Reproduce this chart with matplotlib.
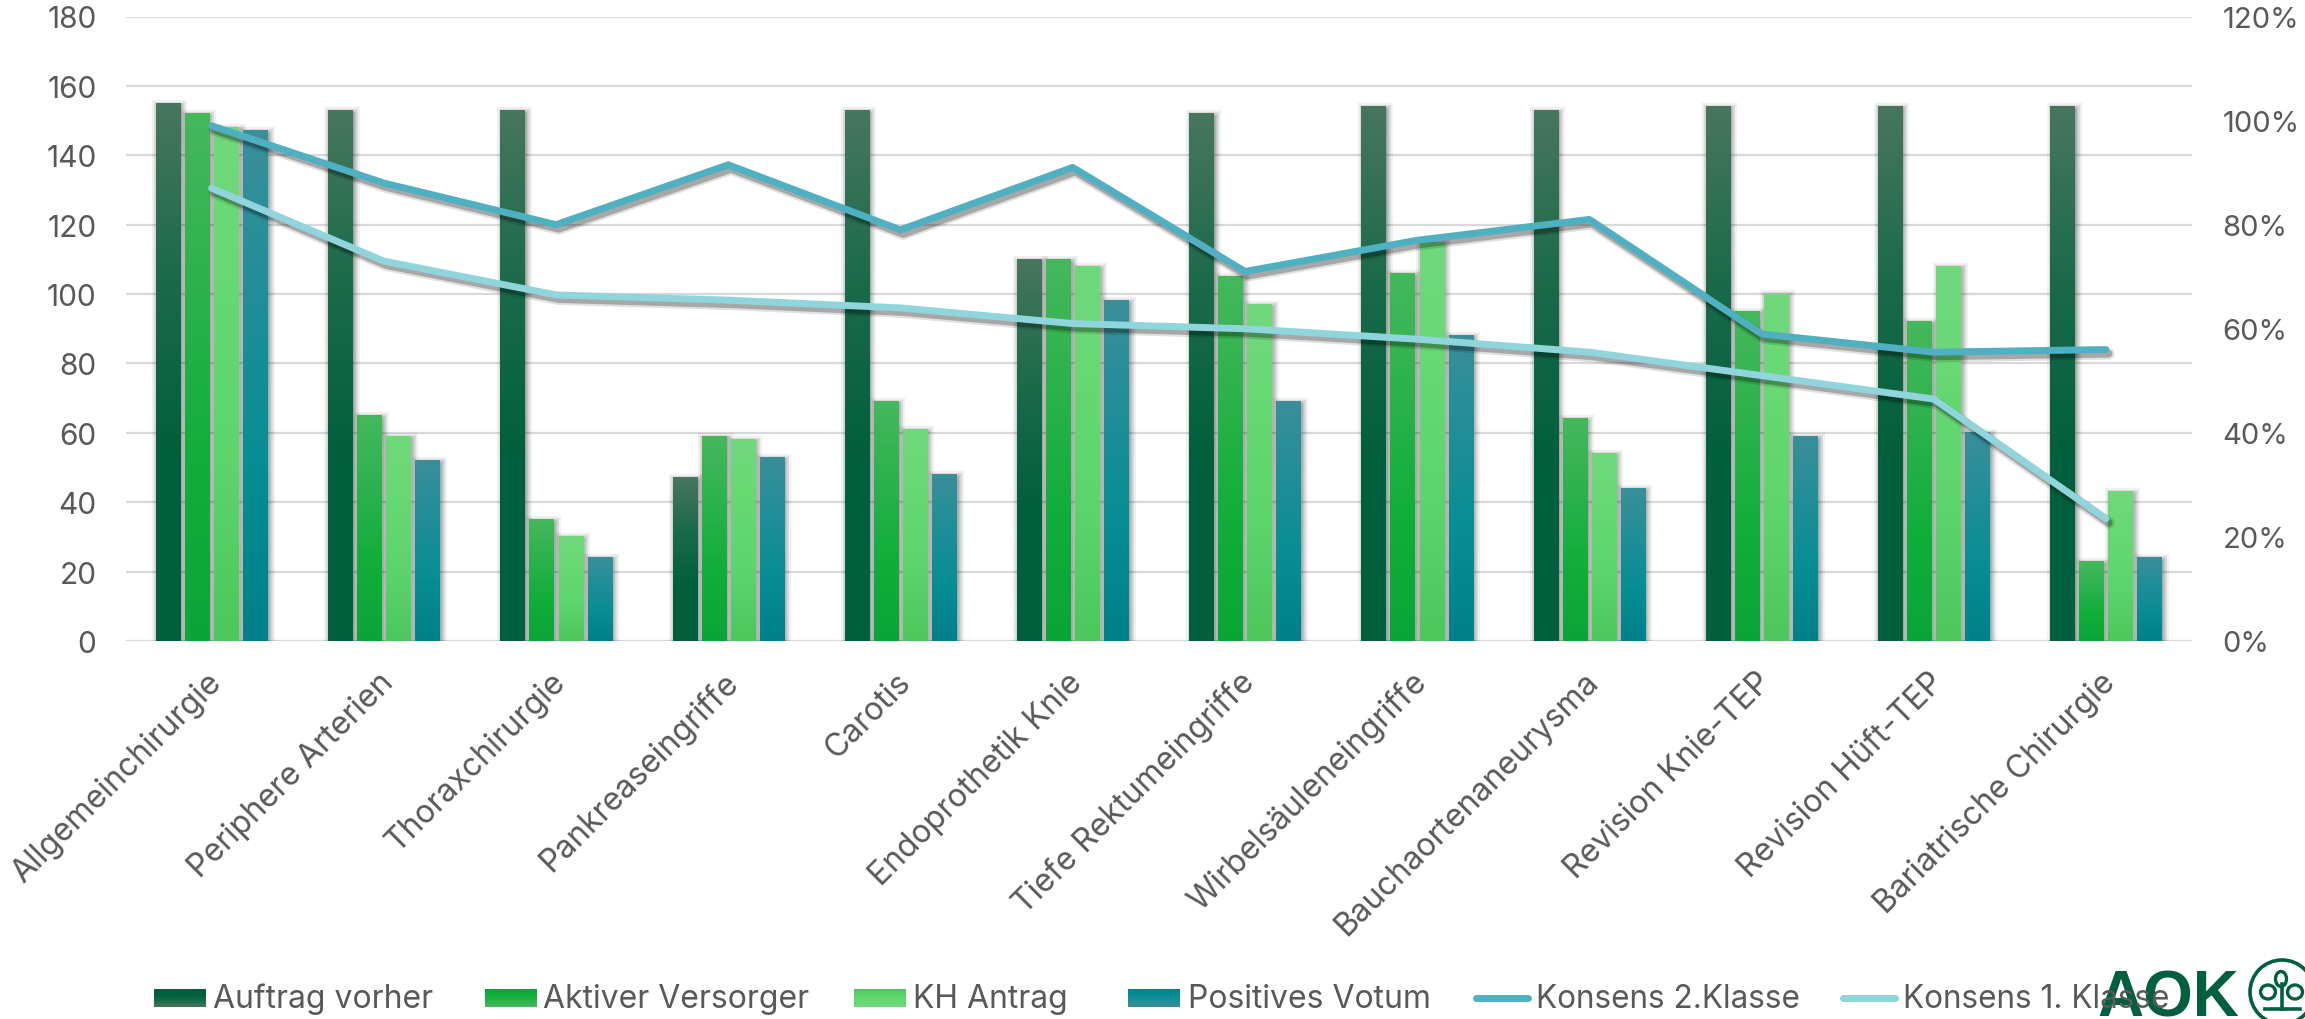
import numpy as np
import matplotlib
matplotlib.use("Agg")
import matplotlib.pyplot as plt
import matplotlib.patheffects as pe
from matplotlib.colors import LinearSegmentedColormap
from matplotlib.patches import Circle, Ellipse
from matplotlib.transforms import ScaledTranslation

plt.rcParams['font.family'] = ['Inter', 'DejaVu Sans']

categories = ["Allgemeinchirurgie", "Periphere Arterien", "Thoraxchirurgie", "Pankreaseingriffe",
              "Carotis", "Endoprothetik Knie", "Tiefe Rektumeingriffe", "Wirbelsäuleneingriffe",
              "Bauchaortenaneurysma", "Revision Knie-TEP", "Revision Hüft-TEP", "Bariatrische Chirurgie"]
auftrag_vorher = [155, 153, 153, 47, 153, 110, 152, 154, 153, 154, 154, 154]
aktiver_versorger = [152, 65, 35, 59, 69, 110, 105, 106, 64, 95, 92, 23]
kh_antrag = [148, 59, 30, 58, 61, 108, 97, 115, 54, 100, 108, 43]
positives_votum = [147, 52, 24, 53, 48, 98, 69, 88, 44, 59, 60, 24]
konsens_2 = [99, 88, 80, 91.5, 79, 91, 71, 77, 81, 59, 55.5, 56]
konsens_1 = [87, 73, 66.5, 65.5, 64, 61, 60, 58, 55.5, 51, 46.5, 23.5]

TEXT = '#595959'
GREEN = '#005f3c'
LINE_2 = '#4fb0c1'
LINE_1 = '#8fd5db'

bar_series = [
    ("Auftrag vorher", auftrag_vorher, ['#47765e', '#1a6a4a', '#005f3c', '#005f3c']),
    ("Aktiver Versorger", aktiver_versorger, ['#45b85c', '#2bb24c', '#10ae3a', '#0aa537']),
    ("KH Antrag", kh_antrag, ['#70d97c', '#66d873', '#5bd56b', '#4cc75c']),
    ("Positives Votum", positives_votum, ['#3a8f98', '#1f8e98', '#068d94', '#00808a']),
]

fig = plt.figure(figsize=(23.05, 10.2), dpi=100)
ax = fig.add_axes([125.5 / 2305, 1 - 642 / 1020, (2192 - 125.5) / 2305, (642 - 17.5) / 1020])
ax2 = ax.twinx()

x = np.arange(len(categories))
width = 0.14
pitch = 0.169
ramp = np.linspace(0, 1, 128).reshape(-1, 1)

for i, (name, values, stops) in enumerate(bar_series):
    cmap = LinearSegmentedColormap.from_list(name, stops)
    xs = x + (i - 1.5) * pitch
    bars = ax.bar(xs, values, width, color=stops[2], zorder=3)
    for bar, xc, v in zip(bars, xs, values):
        # soft grey halo round each bar
        bar.set_path_effects([
            pe.Stroke(linewidth=8, foreground='black', alpha=0.06, offset=(1, -1)),
            pe.Stroke(linewidth=5, foreground='black', alpha=0.09, offset=(1, -1)),
            pe.Stroke(linewidth=2.5, foreground='black', alpha=0.10, offset=(1, -1)),
            pe.Normal(),
        ])
        ax.imshow(ramp, cmap=cmap, aspect='auto', zorder=3.1, interpolation='bilinear',
                  extent=[xc - width / 2, xc + width / 2, 0, v])

ax.set_xlim(-0.5, 11.5)
ax.set_ylim(0, 180)
ax.set_yticks(range(0, 181, 20))
ax.grid(axis='y', color='#d9d9d9', lw=1.6, zorder=0)
ax.set_axisbelow(True)
for s in ax.spines.values():
    s.set_visible(False)
ax.tick_params(axis='y', length=0, pad=21, labelsize=21.5, labelcolor=TEXT)
ax.tick_params(axis='x', length=0, pad=18)
ax.set_xticks(x)
ax.set_xticklabels(categories, rotation=45, ha='right', rotation_mode='anchor', fontsize=23, color=TEXT)
shift = ScaledTranslation(-6 / 100, 0, fig.dpi_scale_trans)
for lab in ax.get_xticklabels():
    lab.set_transform(lab.get_transform() + shift)

ax2.set_zorder(ax.get_zorder() + 1)
ax2.patch.set_visible(False)
shadow = [
    pe.Stroke(linewidth=8.5, foreground='black', alpha=0.12, offset=(2, -3)),
    pe.Stroke(linewidth=5.5, foreground='black', alpha=0.25, offset=(2, -3)),
    pe.Normal(),
]
for values, col in [(konsens_2, LINE_2), (konsens_1, LINE_1)]:
    ax2.plot(x, values, color=col, lw=5, solid_capstyle='round', solid_joinstyle='round',
             path_effects=shadow, zorder=5)
ax2.set_ylim(0, 120)
ax2.set_yticks(range(0, 121, 20))
ax2.set_yticklabels([f"{v}%" for v in range(0, 121, 20)])
for s in ax2.spines.values():
    s.set_visible(False)
ax2.tick_params(axis='y', length=0, pad=22, labelsize=21, labelcolor=TEXT)

# overlay in pixel units for the legend row and the logo
over = fig.add_axes([0, 0, 1, 1], zorder=10)
over.set_xlim(0, 2305)
over.set_ylim(1020, 0)
over.axis('off')

# logo
over.text(2168, 1017, "AOK", fontsize=46, fontweight='bold', family='Liberation Sans',
          color=GREEN, ha='center', va='baseline', zorder=1)
over.add_patch(Circle((2282, 993), 32, fc='none', ec=GREEN, lw=2.6, clip_on=False, zorder=1))
over.plot([2265, 2300], [1010, 1010], color=GREEN, lw=2.6, zorder=1)
over.plot([2282, 2282], [985, 1010], color=GREEN, lw=2.6, zorder=1)
over.add_patch(Ellipse((2281, 980), 11, 15, fc='none', ec=GREEN, lw=2.4, zorder=1))
over.add_patch(Ellipse((2268, 993), 15, 14, fc='none', ec=GREEN, lw=2.4, zorder=1))
over.add_patch(Ellipse((2295, 993), 15, 14, fc='none', ec=GREEN, lw=2.4, zorder=1))

swatch_x = [154, 485, 854, 1128]
text_x = [213, 543, 913, 1188]
for (name, values, stops), sx, tx in zip(bar_series, swatch_x, text_x):
    cmap = LinearSegmentedColormap.from_list(name, stops)
    over.imshow(ramp, cmap=cmap, aspect='auto', extent=[sx, sx + 52, 1008, 990], origin='lower', zorder=2)
    over.text(tx, 1008, name, fontsize=23, color=TEXT, va='baseline', zorder=3)

for name, col, sx, tx in [("Konsens 2.Klasse", LINE_2, 1473, 1536), ("Konsens 1. Klasse", LINE_1, 1840, 1903)]:
    over.plot([sx + 3, sx + 55], [999, 999], color=col, lw=5, solid_capstyle='round', zorder=2)
    over.text(tx, 1008, name, fontsize=22.7, color=TEXT, va='baseline', zorder=3)

over.set_xlim(0, 2305)
over.set_ylim(1020, 0)

fig.savefig("out.png", dpi=100)
